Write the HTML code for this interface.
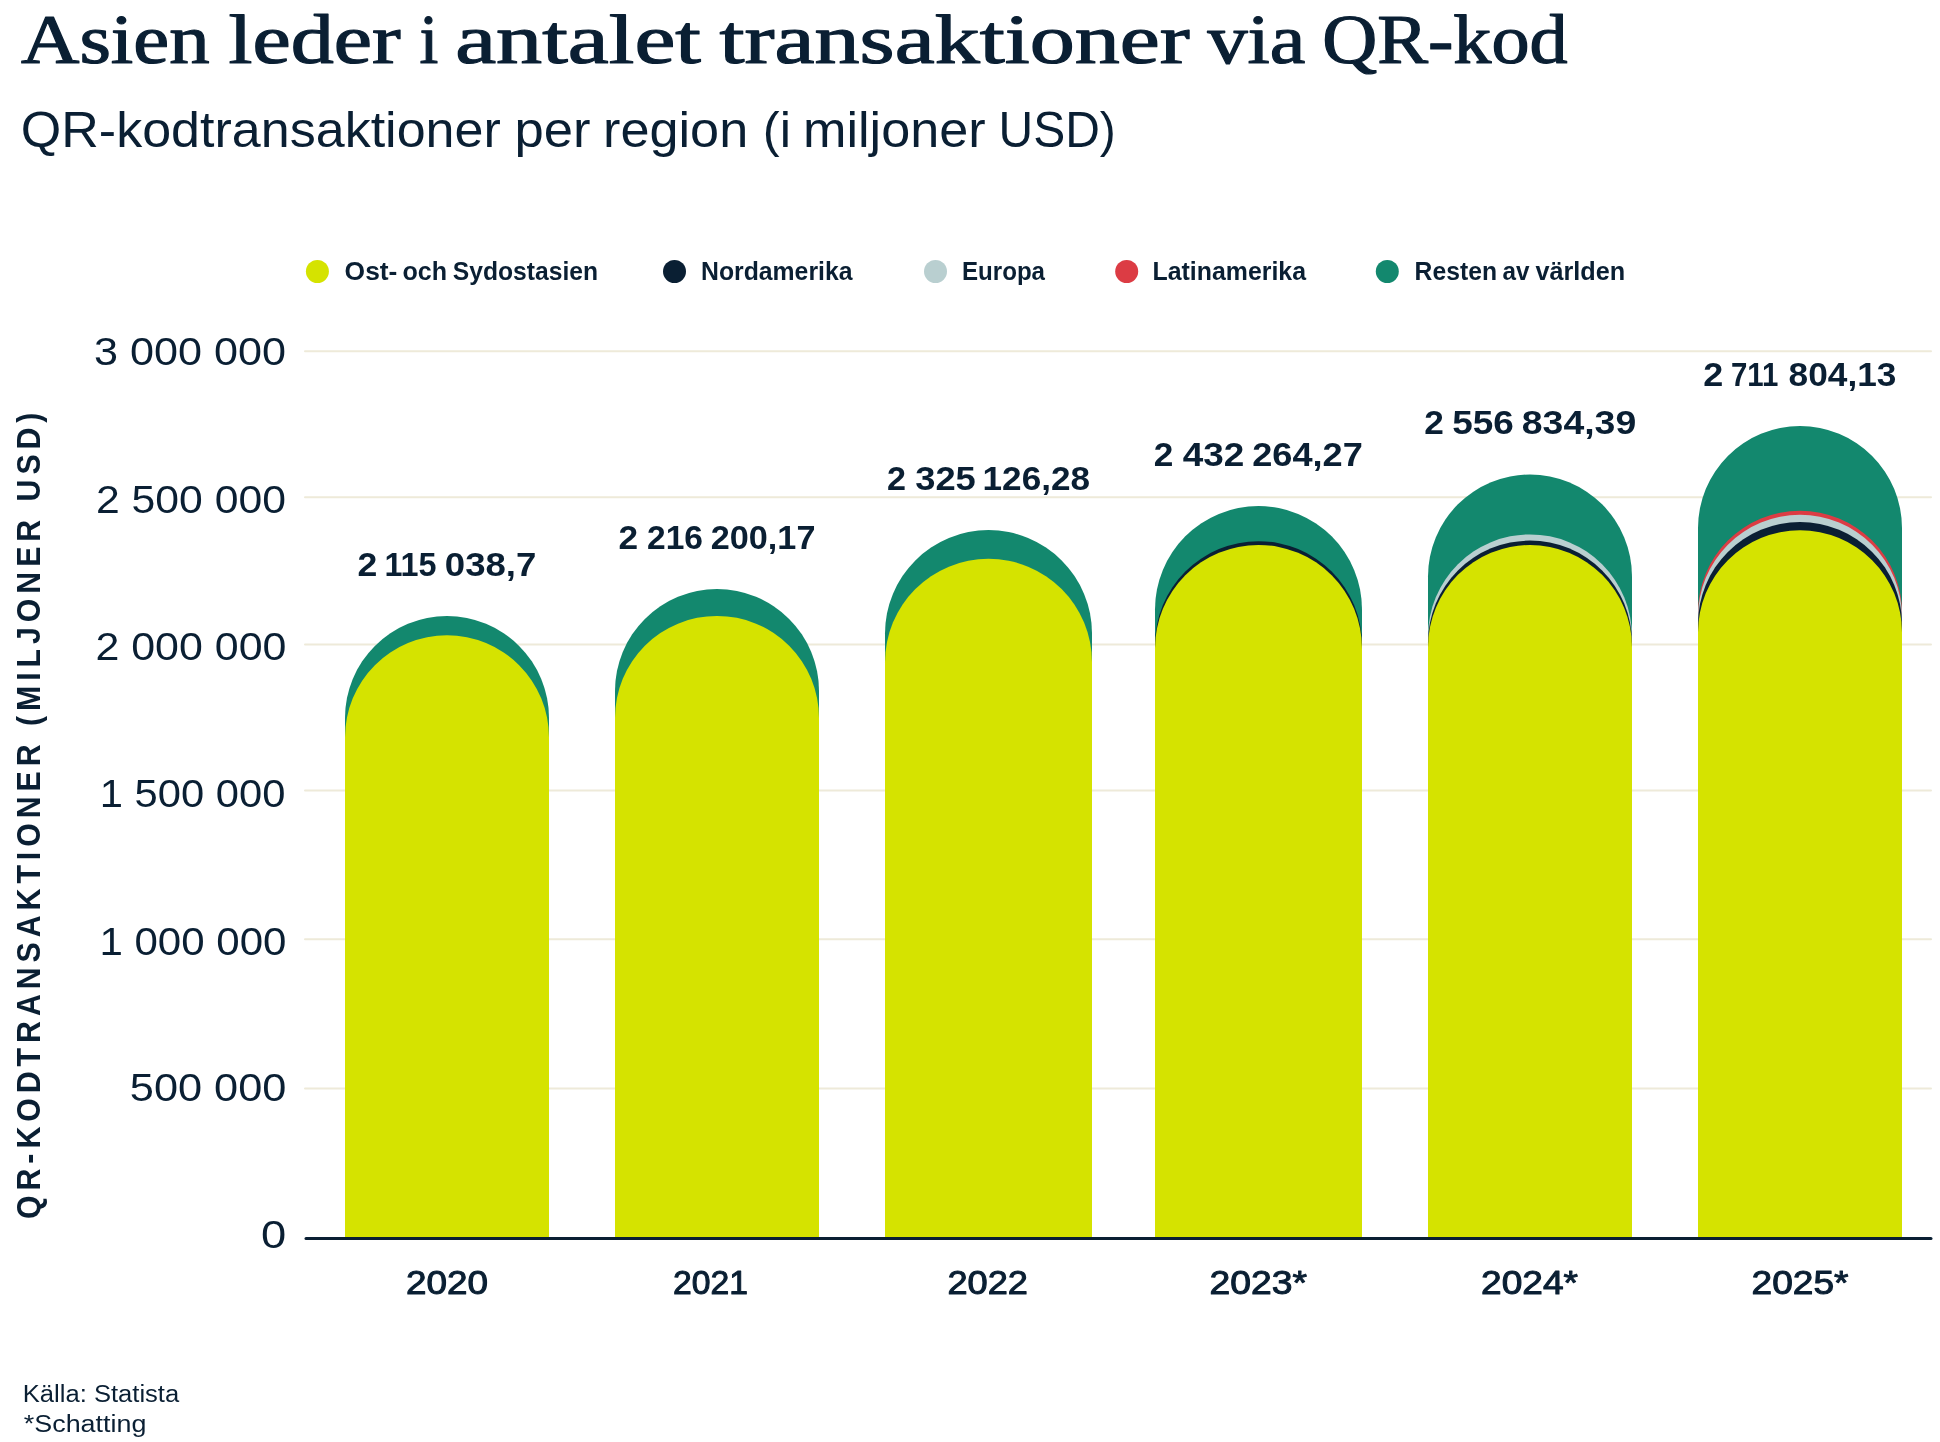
<!DOCTYPE html>
<html lang="sv"><head><meta charset="utf-8"><title>Asien leder i antalet transaktioner via QR-kod</title>
<style>html,body{margin:0;padding:0;background:#fff;width:1940px;height:1442px;overflow:hidden}svg{display:block;will-change:transform}</style>
</head><body>
<svg width="1940" height="1442" viewBox="0 0 1940 1442">
<rect width="1940" height="1442" fill="#ffffff"/>
<line x1="305" y1="351.3" x2="1931" y2="351.3" stroke="#eeead9" stroke-width="2" stroke-linecap="round"/>
<line x1="305" y1="497.3" x2="1931" y2="497.3" stroke="#eeead9" stroke-width="2" stroke-linecap="round"/>
<line x1="305" y1="644.5" x2="1931" y2="644.5" stroke="#eeead9" stroke-width="2" stroke-linecap="round"/>
<line x1="305" y1="790.4" x2="1931" y2="790.4" stroke="#eeead9" stroke-width="2" stroke-linecap="round"/>
<line x1="305" y1="939.2" x2="1931" y2="939.2" stroke="#eeead9" stroke-width="2" stroke-linecap="round"/>
<line x1="305" y1="1088.5" x2="1931" y2="1088.5" stroke="#eeead9" stroke-width="2" stroke-linecap="round"/>
<path d="M345,1238 L345,718.00 A102.00,102.0 0 0 1 549,718.00 L549,1238 Z" fill="#13886e"/>
<path d="M345,1238 L345,737.30 A102.00,102.0 0 0 1 549,737.30 L549,1238 Z" fill="#d5e300"/>
<path d="M615,1238 L615,691.00 A102.00,102.0 0 0 1 819,691.00 L819,1238 Z" fill="#13886e"/>
<path d="M615,1238 L615,717.90 A102.00,102.0 0 0 1 819,717.90 L819,1238 Z" fill="#d5e300"/>
<path d="M885,1238 L885,633.50 A103.50,103.5 0 0 1 1092,633.50 L1092,1238 Z" fill="#13886e"/>
<path d="M885,1238 L885,662.20 A103.50,103.5 0 0 1 1092,662.20 L1092,1238 Z" fill="#d5e300"/>
<path d="M1155,1238 L1155,609.50 A103.50,103.5 0 0 1 1362,609.50 L1362,1238 Z" fill="#13886e"/>
<path d="M1155,1238 L1155,644.70 A103.50,103.5 0 0 1 1362,644.70 L1362,1238 Z" fill="#0a1f33"/>
<path d="M1155,1238 L1155,648.40 A103.50,103.5 0 0 1 1362,648.40 L1362,1238 Z" fill="#d5e300"/>
<path d="M1428,1238 L1428,576.40 A102.00,102.0 0 0 1 1632,576.40 L1632,1238 Z" fill="#13886e"/>
<path d="M1428,1238 L1428,636.30 A102.00,102.0 0 0 1 1632,636.30 L1632,1238 Z" fill="#b9cfd0"/>
<path d="M1428,1238 L1428,642.50 A102.00,102.0 0 0 1 1632,642.50 L1632,1238 Z" fill="#0a1f33"/>
<path d="M1428,1238 L1428,646.90 A102.00,102.0 0 0 1 1632,646.90 L1632,1238 Z" fill="#d5e300"/>
<path d="M1698,1238 L1698,528.10 A102.00,102.0 0 0 1 1902,528.10 L1902,1238 Z" fill="#13886e"/>
<path d="M1698,1238 L1698,612.70 A102.00,102.0 0 0 1 1902,612.70 L1902,1238 Z" fill="#dc3c44"/>
<path d="M1698,1238 L1698,616.80 A102.00,102.0 0 0 1 1902,616.80 L1902,1238 Z" fill="#b9cfd0"/>
<path d="M1698,1238 L1698,624.00 A102.00,102.0 0 0 1 1902,624.00 L1902,1238 Z" fill="#0a1f33"/>
<path d="M1698,1238 L1698,632.30 A102.00,102.0 0 0 1 1902,632.30 L1902,1238 Z" fill="#d5e300"/>
<line x1="306" y1="1238.4" x2="1931" y2="1238.4" stroke="#0a1f33" stroke-width="3" stroke-linecap="round"/>
<text y="62.5" font-family="'Liberation Serif', serif" font-size="70" font-weight="400" fill="#0a1f33" stroke="#0a1f33" stroke-width="1.2" stroke-linejoin="round"><tspan x="21.0" textLength="188.6" lengthAdjust="spacingAndGlyphs">Asien</tspan> <tspan x="228.6" textLength="172.2" lengthAdjust="spacingAndGlyphs">leder</tspan> <tspan x="419.6" textLength="18.8" lengthAdjust="spacingAndGlyphs">i</tspan> <tspan x="455.2" textLength="245.8" lengthAdjust="spacingAndGlyphs">antalet</tspan> <tspan x="719.6" textLength="470.2" lengthAdjust="spacingAndGlyphs">transaktioner</tspan> <tspan x="1207.4" textLength="98.0" lengthAdjust="spacingAndGlyphs">via</tspan> <tspan x="1322.2" textLength="245.4" lengthAdjust="spacingAndGlyphs">QR-kod</tspan></text>
<text y="146.8" font-family="'Liberation Sans', sans-serif" font-size="49.5" fill="#0a1f33"><tspan x="20.8" textLength="480.0" lengthAdjust="spacingAndGlyphs">QR-kodtransaktioner</tspan> <tspan x="514.4" textLength="76.0" lengthAdjust="spacingAndGlyphs">per</tspan> <tspan x="603.0" textLength="145.2" lengthAdjust="spacingAndGlyphs">region</tspan> <tspan x="762.8" textLength="28.2" lengthAdjust="spacingAndGlyphs">(i</tspan> <tspan x="803.0" textLength="182.6" lengthAdjust="spacingAndGlyphs">miljoner</tspan> <tspan x="998.6" textLength="117.2" lengthAdjust="spacingAndGlyphs">USD)</tspan></text>
<circle cx="317.4" cy="271.5" r="11.5" fill="#d5e300"/>
<text y="279.8" font-family="'Liberation Sans', sans-serif" font-size="25" font-weight="700" fill="#0a1f33"><tspan x="344.6" textLength="52.8" lengthAdjust="spacingAndGlyphs">Ost-</tspan> <tspan x="402.4" textLength="44.6" lengthAdjust="spacingAndGlyphs">och</tspan> <tspan x="452.8" textLength="145.2" lengthAdjust="spacingAndGlyphs">Sydostasien</tspan></text>
<circle cx="674.5" cy="271.5" r="11.5" fill="#0a1f33"/>
<text x="701.0" y="279.8" font-family="'Liberation Sans', sans-serif" font-size="25" font-weight="700" fill="#0a1f33" text-anchor="start" textLength="151.5" lengthAdjust="spacingAndGlyphs">Nordamerika</text>
<circle cx="935.5" cy="271.5" r="11.5" fill="#b9cfd0"/>
<text x="962.0" y="279.8" font-family="'Liberation Sans', sans-serif" font-size="25" font-weight="700" fill="#0a1f33" text-anchor="start" textLength="83.0" lengthAdjust="spacingAndGlyphs">Europa</text>
<circle cx="1126.7" cy="271.5" r="11.5" fill="#dc3c44"/>
<text x="1152.5" y="279.8" font-family="'Liberation Sans', sans-serif" font-size="25" font-weight="700" fill="#0a1f33" text-anchor="start" textLength="153.5" lengthAdjust="spacingAndGlyphs">Latinamerika</text>
<circle cx="1387.3" cy="271.5" r="11.5" fill="#13886e"/>
<text y="279.8" font-family="'Liberation Sans', sans-serif" font-size="25" font-weight="700" fill="#0a1f33"><tspan x="1414.6" textLength="82.4" lengthAdjust="spacingAndGlyphs">Resten</tspan> <tspan x="1502.6" textLength="27.0" lengthAdjust="spacingAndGlyphs">av</tspan> <tspan x="1535.4" textLength="89.8" lengthAdjust="spacingAndGlyphs">världen</tspan></text>
<text x="286.0" y="364.9" font-family="'Liberation Sans', sans-serif" font-size="39.5" font-weight="400" fill="#0a1f33" text-anchor="end" textLength="192.0" lengthAdjust="spacingAndGlyphs">3 000 000</text>
<text x="286.0" y="513.2" font-family="'Liberation Sans', sans-serif" font-size="39.5" font-weight="400" fill="#0a1f33" text-anchor="end" textLength="190.0" lengthAdjust="spacingAndGlyphs">2 500 000</text>
<text x="286.4" y="660.2" font-family="'Liberation Sans', sans-serif" font-size="39.5" font-weight="400" fill="#0a1f33" text-anchor="end" textLength="191.0" lengthAdjust="spacingAndGlyphs">2 000 000</text>
<text x="285.4" y="807.3" font-family="'Liberation Sans', sans-serif" font-size="39.5" font-weight="400" fill="#0a1f33" text-anchor="end" textLength="185.6" lengthAdjust="spacingAndGlyphs">1 500 000</text>
<text x="286.4" y="954.5" font-family="'Liberation Sans', sans-serif" font-size="39.5" font-weight="400" fill="#0a1f33" text-anchor="end" textLength="187.0" lengthAdjust="spacingAndGlyphs">1 000 000</text>
<text x="286.4" y="1101.0" font-family="'Liberation Sans', sans-serif" font-size="39.5" font-weight="400" fill="#0a1f33" text-anchor="end" textLength="156.6" lengthAdjust="spacingAndGlyphs">500 000</text>
<text x="286.2" y="1247.8" font-family="'Liberation Sans', sans-serif" font-size="39.5" font-weight="400" fill="#0a1f33" text-anchor="end" textLength="25.2" lengthAdjust="spacingAndGlyphs">0</text>
<text y="575.9" font-family="'Liberation Sans', sans-serif" font-size="32.5" font-weight="700" fill="#0a1f33"><tspan x="357.6" textLength="19.8" lengthAdjust="spacingAndGlyphs">2</tspan> <tspan x="384.4" textLength="52.2" lengthAdjust="spacingAndGlyphs">115</tspan> <tspan x="444.8" textLength="91.6" lengthAdjust="spacingAndGlyphs">038,7</tspan></text>
<text y="549.0" font-family="'Liberation Sans', sans-serif" font-size="32.5" font-weight="700" fill="#0a1f33"><tspan x="618.6" textLength="19.6" lengthAdjust="spacingAndGlyphs">2</tspan> <tspan x="647.0" textLength="56.0" lengthAdjust="spacingAndGlyphs">216</tspan> <tspan x="710.8" textLength="104.6" lengthAdjust="spacingAndGlyphs">200,17</tspan></text>
<text y="489.6" font-family="'Liberation Sans', sans-serif" font-size="32.5" font-weight="700" fill="#0a1f33"><tspan x="887.0" textLength="19.0" lengthAdjust="spacingAndGlyphs">2</tspan> <tspan x="915.2" textLength="60.6" lengthAdjust="spacingAndGlyphs">325</tspan> <tspan x="982.6" textLength="107.4" lengthAdjust="spacingAndGlyphs">126,28</tspan></text>
<text y="465.8" font-family="'Liberation Sans', sans-serif" font-size="32.5" font-weight="700" fill="#0a1f33"><tspan x="1153.8" textLength="19.6" lengthAdjust="spacingAndGlyphs">2</tspan> <tspan x="1182.8" textLength="61.6" lengthAdjust="spacingAndGlyphs">432</tspan> <tspan x="1252.2" textLength="110.6" lengthAdjust="spacingAndGlyphs">264,27</tspan></text>
<text y="433.9" font-family="'Liberation Sans', sans-serif" font-size="32.5" font-weight="700" fill="#0a1f33"><tspan x="1424.2" textLength="19.6" lengthAdjust="spacingAndGlyphs">2</tspan> <tspan x="1452.2" textLength="61.6" lengthAdjust="spacingAndGlyphs">556</tspan> <tspan x="1521.8" textLength="114.4" lengthAdjust="spacingAndGlyphs">834,39</tspan></text>
<text y="385.9" font-family="'Liberation Sans', sans-serif" font-size="32.5" font-weight="700" fill="#0a1f33"><tspan x="1703.2" textLength="20.0" lengthAdjust="spacingAndGlyphs">2</tspan> <tspan x="1731.0" textLength="47.4" lengthAdjust="spacingAndGlyphs">711</tspan> <tspan x="1788.6" textLength="107.8" lengthAdjust="spacingAndGlyphs">804,13</tspan></text>
<text x="406.0" y="1294.2" font-family="'Liberation Sans', sans-serif" font-size="33" font-weight="400" fill="#0a1f33" text-anchor="start" textLength="82.0" lengthAdjust="spacingAndGlyphs" stroke="#0a1f33" stroke-width="1.0" stroke-linejoin="round">2020</text>
<text x="673.0" y="1294.2" font-family="'Liberation Sans', sans-serif" font-size="33" font-weight="400" fill="#0a1f33" text-anchor="start" textLength="75.0" lengthAdjust="spacingAndGlyphs" stroke="#0a1f33" stroke-width="1.0" stroke-linejoin="round">2021</text>
<text x="947.5" y="1294.2" font-family="'Liberation Sans', sans-serif" font-size="33" font-weight="400" fill="#0a1f33" text-anchor="start" textLength="80.5" lengthAdjust="spacingAndGlyphs" stroke="#0a1f33" stroke-width="1.0" stroke-linejoin="round">2022</text>
<text x="1209.5" y="1294.2" font-family="'Liberation Sans', sans-serif" font-size="33" font-weight="400" fill="#0a1f33" text-anchor="start" textLength="97.5" lengthAdjust="spacingAndGlyphs" stroke="#0a1f33" stroke-width="1.0" stroke-linejoin="round">2023*</text>
<text x="1481.0" y="1294.2" font-family="'Liberation Sans', sans-serif" font-size="33" font-weight="400" fill="#0a1f33" text-anchor="start" textLength="97.0" lengthAdjust="spacingAndGlyphs" stroke="#0a1f33" stroke-width="1.0" stroke-linejoin="round">2024*</text>
<text x="1751.5" y="1294.2" font-family="'Liberation Sans', sans-serif" font-size="33" font-weight="400" fill="#0a1f33" text-anchor="start" textLength="97.0" lengthAdjust="spacingAndGlyphs" stroke="#0a1f33" stroke-width="1.0" stroke-linejoin="round">2025*</text>
<g transform="translate(40.0,1219) rotate(-90) scale(0.92,1)"><text x="0" y="0" font-family="'Liberation Sans', sans-serif" font-size="33" font-weight="700" fill="#0a1f33" textLength="876.63" lengthAdjust="spacing">QR-KODTRANSAKTIONER (MILJONER USD)</text></g>
<text x="22.8" y="1402.1" font-family="'Liberation Sans', sans-serif" font-size="23" font-weight="400" fill="#0a1f33" text-anchor="start" textLength="156.4" lengthAdjust="spacingAndGlyphs">Källa: Statista</text>
<text x="23.8" y="1431.8" font-family="'Liberation Sans', sans-serif" font-size="23" font-weight="400" fill="#0a1f33" text-anchor="start" textLength="122.6" lengthAdjust="spacingAndGlyphs">*Schatting</text>
</svg>
</body></html>
